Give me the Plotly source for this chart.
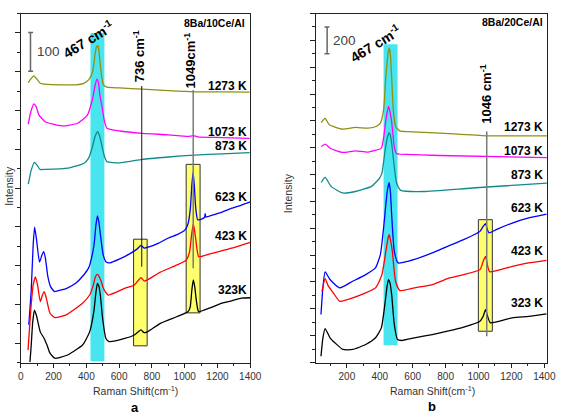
import plotly.graph_objects as go

FONT = "Liberation Sans, Arial, sans-serif"

# ---------------- Panel a : 8Ba/10Ce/Al ----------------
A_LABELS = ["1273 K", "1073 K", "873 K", "623 K", "423 K", "323K"]
A_LABEL_Y = [663, 545, 509, 378, 276, 137]

A_X_1273 = [45.7, 60.6, 79.6, 99.2, 118.8, 158.6, 247.7, 336.8, 384.3, 414, 437.8, 452.6, 461.5, 467.5, 473.4,
            482.3, 494.2, 504.9, 525.1, 604, 742.5, 901, 1059.7, 1227.8, 1396]
A_Y_1273 = [672, 681, 689, 680, 670, 667, 666, 666, 670, 679, 699, 743, 764, 767, 764,
            730, 684, 666, 660, 658, 655, 651, 648, 648, 647]

A_X_1073 = [45.7, 60.6, 79.6, 93.3, 111.1, 148.5, 247.7, 346.9, 406.3, 436, 452.6, 464.5, 473.4, 482.3, 495.4,
            509.1, 525.1, 604, 742.5, 901, 1020, 1052.6, 1079.3, 1227.8, 1396]
A_Y_1073 = [565, 596, 617, 610, 588, 571, 560, 567, 588, 627, 663, 681, 673, 640, 610,
            575, 554, 547, 541, 537, 533, 535, 532, 530, 528]

A_X_873 = [45.7, 63.6, 83.2, 99.2, 117, 148.5, 287.5, 386.1, 414, 434.8, 452.6, 469.3, 482.3, 495.4, 509.1,
           525.1, 604, 742.5, 901, 1059.7, 1227.8, 1396]
A_Y_873 = [410, 446, 466, 459, 448, 448, 451, 464, 477, 503, 532, 545, 532, 507, 483,
           468, 465, 474, 480, 485, 488, 491]

A_X_623 = [48.7, 63.6, 75.4, 84.3, 96.2, 114, 128.9, 139, 149.7, 164.5, 182.4, 206, 247.7, 283.3, 336.8,
           378.4, 414, 431.8, 446.7, 458.6, 467.5, 476.4, 488.3, 503.1, 521, 544.7, 604, 663.5, 711, 733,
           752.6, 782.3, 841.7, 901, 960.5, 1002, 1020, 1034.7, 1043.7, 1051.4, 1058.5, 1067.4, 1079.3, 1103,
           1120.9, 1125, 1129.8, 1168.4, 1227.8, 1287.2, 1346.6, 1400]
A_Y_623 = [47, 137, 253, 299, 266, 209, 227, 236, 220, 173, 145, 133, 137, 142, 155,
           173, 194, 220, 253, 305, 328, 312, 271, 227, 209, 207, 217, 230, 243, 252,
           245, 248, 258, 271, 281, 292, 307, 348, 408, 441, 408, 348, 318, 320,
           324, 334, 325, 330, 338, 348, 356, 364]

A_X_423 = [44, 60.6, 75.4, 89.1, 102.2, 118.8, 131.9, 142.6, 155.6, 178.2, 207.9, 277.4, 376.6, 420, 440.7,
           455.6, 465.7, 476.4, 491.2, 503.1, 515, 534.6, 634, 693.2, 733, 752.6, 772.2, 851.8, 950.4, 1009.8,
           1030, 1041.9, 1052.6, 1061.5, 1069.2, 1085.2, 1128.6, 1208.2, 1287.2, 1400]
A_Y_423 = [-18, 85, 150, 171, 150, 107, 124, 133, 116, 77, 66, 73, 103, 124, 147,
           171, 177, 173, 158, 142, 133, 124, 141, 150, 169, 160, 163, 183, 201, 214,
           236, 279, 308, 287, 262, 223, 227, 236, 245, 260]

A_X_323 = [55.8, 63.6, 72.5, 83.2, 96.2, 118.8, 142.6, 161.6, 178.2, 207.9, 277.4, 376.6, 420, 445.5, 458.6,
           467.5, 476.4, 485.3, 499, 519.2, 538.8, 634, 693.2, 733, 752.6, 772.2, 851.8, 950.4, 1020, 1033.6,
           1043.7, 1052.6, 1061.5, 1069.2, 1079.3, 1085.2, 1148.8, 1227.8, 1287.2, 1346.6, 1400]
A_Y_323 = [-49, -5, 54, 85, 70, 29, 12, -7, -26, -39, -32, -5, 29, 81, 132,
           154, 147, 124, 64, 12, 4, 12, 21, 34, 27, 29, 51, 68, 81, 93,
           137, 163, 145, 116, 88, 81, 90, 103, 109, 116, 117]

# ---------------- Panel b : 8Ba/20Ce/Al ----------------
B_LABELS = ["1273 K", "1073 K", "873 K", "623 K", "423 K", "323 K"]
B_LABEL_Y = [1754, 1572, 1399, 1151, 828, 444]

B_X_1273 = [44, 68, 93.5, 173, 251.5, 330, 380, 403.5, 423, 437, 450, 457, 464, 472, 482, 496, 522, 567, 765, 1050, 1415]
B_Y_1273 = [1788, 1818, 1771, 1739, 1751, 1746, 1760, 1783, 1882, 2130, 2300, 2341, 2300, 2130, 1882, 1758, 1725,
            1720, 1709, 1689, 1689]

B_X_1073 = [44, 68, 104, 173, 251.5, 330, 409.5, 423, 437, 453, 460, 472, 488, 502, 518, 765, 1415]
B_Y_1073 = [1609, 1627, 1592, 1565, 1577, 1568, 1597, 1672, 1808, 1907, 1880, 1795, 1609, 1555, 1553, 1542, 1527]

B_X_873 = [44, 68, 104, 173, 251.5, 350, 399, 413, 433, 447, 457, 464, 472, 488, 502, 528, 666, 961, 1415]
B_Y_873 = [1341, 1379, 1312, 1263, 1274, 1312, 1374, 1411, 1585, 1680, 1713, 1695, 1635, 1460, 1337, 1282, 1274,
           1300, 1337]

B_X_623 = [42.6, 53.3, 68, 97.6, 156.8, 235.5, 314.8, 374, 403.5, 423.1, 436.7, 446.7, 456.8, 464.5, 472.2, 488.2,
           511.8, 571, 718.9, 811.8, 910, 1008.9, 1028.4, 1042.6, 1056.2, 1063.9, 1107.7, 1205.9, 1304.7, 1413]
B_Y_623 = [357, 543, 675, 618, 556, 605, 655, 705, 804, 1002, 1176, 1287, 1339, 1272, 1101, 828,
           742, 754, 816, 865, 915, 977, 1014, 1034, 982, 965, 990, 1039, 1077, 1106]

B_X_423 = [48.5, 68, 85.8, 117.2, 156.8, 235.5, 374, 413, 436.7, 448.5, 456.8, 464.5, 476.3, 495.8, 521.9, 610.6,
           718.9, 811.8, 910, 1008.9, 1028.4, 1042.6, 1058, 1068, 1205.9, 1304.7, 1413]
B_Y_423 = [530, 625, 573, 519, 456, 481, 556, 655, 828, 915, 952, 915, 828, 605, 536, 556,
           580, 625, 655, 692, 754, 791, 705, 675, 716, 742, 761]

B_X_323 = [42.6, 54.4, 68, 97.6, 127.2, 176.3, 235.5, 314.8, 374, 409.5, 433.1, 443.9, 452.7, 461.6, 472.2, 488.2,
           507.7, 531.4, 610.6, 718.9, 811.8, 910, 1008.9, 1028.4, 1042.6, 1058, 1072.2, 1205.9, 1304.7, 1413]
B_Y_323 = [47, 184, 253, 184, 147, 97, 97, 134, 184, 258, 456, 565, 618, 595, 506, 283,
           171, 164, 184, 208, 233, 263, 307, 344, 394, 333, 295, 333, 344, 362]

COLORS = ["#8f8f10", "#ff00ff", "#128a8a", "#0000ff", "#ff0000", "#000000"]
X_TICKS = [0, 200, 400, 600, 800, 1000, 1200, 1400]

A_SERIES = [(A_X_1273, A_Y_1273), (A_X_1073, A_Y_1073), (A_X_873, A_Y_873),
            (A_X_623, A_Y_623), (A_X_423, A_Y_423), (A_X_323, A_Y_323)]
B_SERIES = [(B_X_1273, B_Y_1273), (B_X_1073, B_Y_1073), (B_X_873, B_Y_873),
            (B_X_623, B_Y_623), (B_X_423, B_Y_423), (B_X_323, B_Y_323)]

fig = go.Figure()
for (xs, ys), c in zip(A_SERIES, COLORS):
    fig.add_trace(go.Scatter(x=xs, y=ys, mode="lines", xaxis="x", yaxis="y",
                             line=dict(color=c, width=1.3, shape="spline", smoothing=0.5),
                             showlegend=False, hoverinfo="skip"))
for (xs, ys), c in zip(B_SERIES, COLORS):
    fig.add_trace(go.Scatter(x=xs, y=ys, mode="lines", xaxis="x2", yaxis="y2",
                             line=dict(color=c, width=1.3, shape="spline", smoothing=0.5),
                             showlegend=False, hoverinfo="skip"))

CYAN = "#48e4f0"
YEL = "#ffff6e"
shapes = []
# panel a highlight bands
shapes.append(dict(type="rect", xref="x", yref="y", x0=425, x1=510, y0=-47, y1=800,
                   fillcolor=CYAN, line=dict(width=0), layer="below"))
shapes.append(dict(type="rect", xref="x", yref="y", x0=688, x1=771, y0=-7, y1=268,
                   fillcolor=YEL, line=dict(color="#333333", width=1), layer="below"))
shapes.append(dict(type="rect", xref="x", yref="y", x0=1009, x1=1094, y0=78, y1=461,
                   fillcolor=YEL, line=dict(color="#333333", width=1), layer="below"))
shapes.append(dict(type="line", xref="x", yref="y", x0=738, x1=738, y0=197, y1=663,
                   line=dict(color="#111111", width=1)))
shapes.append(dict(type="line", xref="x", yref="y", x0=1052, x1=1052, y0=193, y1=653,
                   line=dict(color="#7a7a7a", width=1.5)))
# panel a scale bar
shapes.append(dict(type="line", xref="x", yref="y", x0=59, x1=59, y0=701, y1=801,
                   line=dict(color="#666666", width=1.5)))
for yy in (701, 801):
    shapes.append(dict(type="line", xref="x", yref="y", x0=45, x1=75, y0=yy, y1=yy,
                       line=dict(color="#666666", width=1.5)))

# panel b highlight bands
shapes.append(dict(type="rect", xref="x2", yref="y2", x0=423, x1=508, y0=129, y1=2371,
                   fillcolor=CYAN, line=dict(width=0), layer="below"))
shapes.append(dict(type="rect", xref="x2", yref="y2", x0=999, x1=1084, y0=233, y1=1064,
                   fillcolor=YEL, line=dict(color="#333333", width=1), layer="below"))
shapes.append(dict(type="line", xref="x2", yref="y2", x0=1050, x1=1050, y0=196, y1=1721,
                   line=dict(color="#7a7a7a", width=1.5)))
# panel b scale bar
shapes.append(dict(type="line", xref="x2", yref="y2", x0=80, x1=80, y0=2300, y1=2500,
                   line=dict(color="#666666", width=1.5)))
for yy in (2300, 2500):
    shapes.append(dict(type="line", xref="x2", yref="y2", x0=64, x1=94, y0=yy, y1=yy,
                       line=dict(color="#666666", width=1.5)))

ann = []
def txt(x, y, t, xref, yref, size, color="#000000", angle=0, xanchor="center", yanchor="middle"):
    ann.append(dict(x=x, y=y, xref=xref, yref=yref, text=t, showarrow=False, textangle=angle,
                    xanchor=xanchor, yanchor=yanchor,
                    font=dict(family=FONT, size=size, color=color)))

# panel a texts
txt(412, 784, "<b>467 cm<sup>-1</sup></b>", "x", "y", 14, angle=-31)
txt(722, 740, "<b>736 cm<sup>-1</sup></b>", "x", "y", 13, angle=-90)
txt(1030, 728, "<b>1049cm<sup>-1</sup></b>", "x", "y", 13, angle=-90)
txt(1382, 826, "<b>8Ba/10Ce/Al</b>", "x", "y", 10.5, xanchor="right")
for lab, yy in zip(A_LABELS, A_LABEL_Y):
    txt(1391, yy, "<b>" + lab + "</b>", "x", "y", 12, xanchor="right")
txt(84, 751, "100", "x", "y", 13.5, color="#444444", xanchor="left")

# panel b texts
txt(376, 2380, "<b>467 cm<sup>-1</sup></b>", "x2", "y2", 14, angle=-31)
txt(1044, 2001, "<b>1046 cm<sup>-1</sup></b>", "x2", "y2", 13, angle=-90)
txt(1405, 2539, "<b>8Ba/20Ce/Al</b>", "x2", "y2", 10.5, xanchor="right")
for lab, yy in zip(B_LABELS, B_LABEL_Y):
    txt(1403, yy, "<b>" + lab + "</b>", "x2", "y2", 12, xanchor="right")
txt(101, 2400, "200", "x2", "y2", 13.5, color="#444444", xanchor="left")

# axis titles and panel letters (paper coords)
txt(136 / 564, 1 - 390.5 / 420, "Raman Shift(cm<sup>-1</sup>)", "paper", "paper", 10.5, color="#333333")
txt(441 / 564, 1 - 390.5 / 420, "Raman Shift(cm<sup>-1</sup>)", "paper", "paper", 10.5, color="#333333")
txt(136 / 564, 1 - 407 / 420, "<b>a</b>", "paper", "paper", 13)
txt(441 / 564, 1 - 406 / 420, "<b>b</b>", "paper", "paper", 13)
txt(6 / 564, 1 - 186 / 420, "Intensity", "paper", "paper", 10.5, color="#333333", angle=-90)
txt(293 / 564, 1 - 193 / 420, "Intensity", "paper", "paper", 10.5, color="#333333", angle=-90)

YDOM = [1 - 362.5 / 420, 1 - 13.5 / 420]
axis_common = dict(showline=True, linecolor="#222222", linewidth=1.2, mirror=True, showgrid=False,
                   zeroline=False, ticks="outside", tickcolor="#222222")

fig.update_layout(
    width=564, height=420, autosize=False,
    margin=dict(l=0, r=0, t=0, b=0),
    paper_bgcolor="white", plot_bgcolor="white",
    font=dict(family=FONT, size=10, color="#333333"),
    xaxis=dict(domain=[18.3 / 564, 254 / 564], range=[0, 1400], anchor="y",
               tickvals=X_TICKS, ticklen=4, tickfont=dict(size=10, color="#333333"),
               minor=dict(dtick=100, tick0=0, ticklen=2.5, ticks="outside", tickcolor="#222222"),
               **axis_common),
    yaxis=dict(domain=YDOM, range=[-50, 850], anchor="x", dtick=100, tick0=0, ticklen=5,
               showticklabels=False,
               minor=dict(dtick=50, tick0=0, ticklen=3, ticks="outside", tickcolor="#222222"),
               **axis_common),
    xaxis2=dict(domain=[322 / 564, 559 / 564], range=[15, 1417], anchor="y2",
                tickvals=X_TICKS[1:], ticklen=4, tickfont=dict(size=10, color="#333333"),
                minor=dict(dtick=100, tick0=0, ticklen=2.5, ticks="outside", tickcolor="#222222"),
                **axis_common),
    yaxis2=dict(domain=YDOM, range=[0, 2600], anchor="x2", dtick=200, tick0=0, ticklen=5,
                showticklabels=False,
                minor=dict(dtick=100, tick0=0, ticklen=3, ticks="outside", tickcolor="#222222"),
                **axis_common),
    shapes=shapes,
    annotations=ann,
)

fig.write_html("out.html")
